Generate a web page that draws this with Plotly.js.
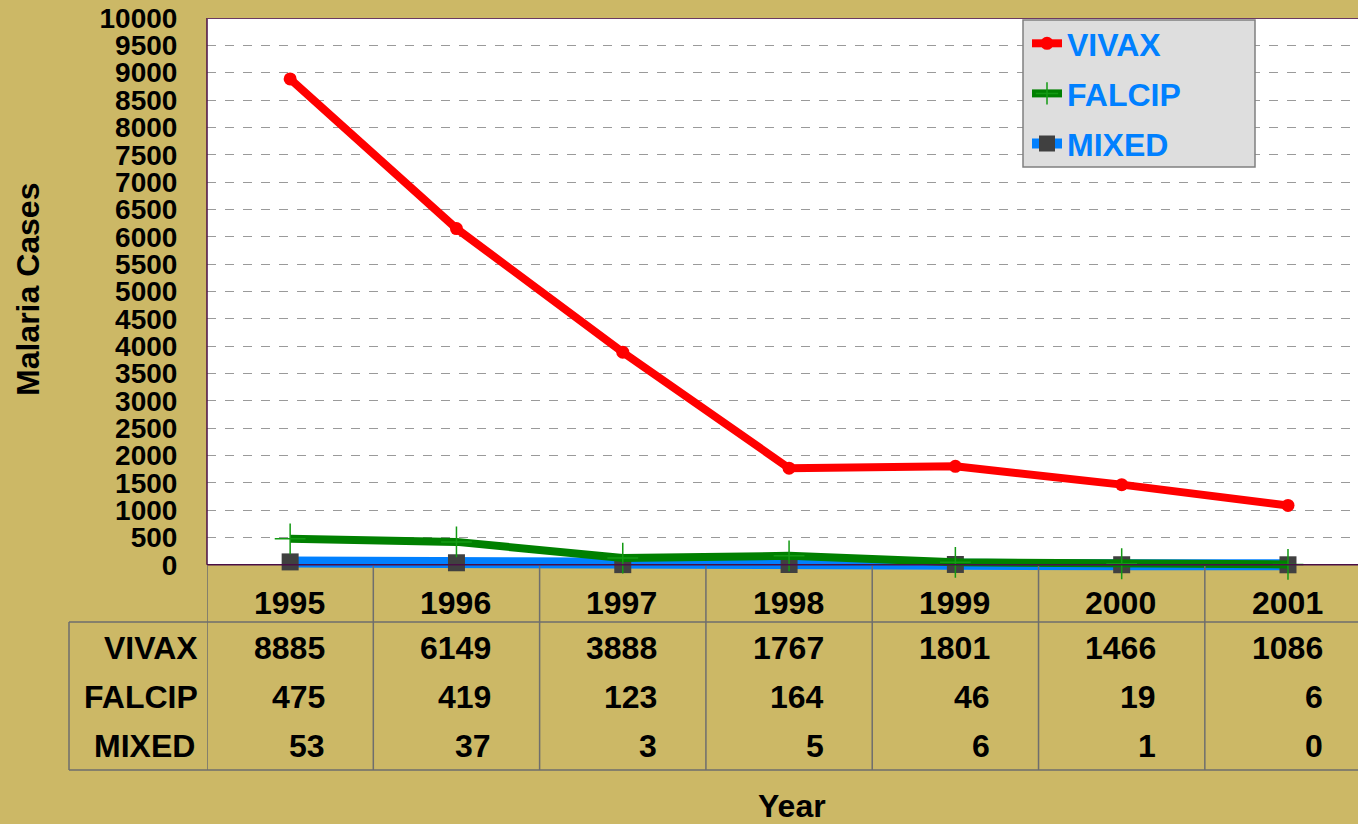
<!DOCTYPE html>
<html>
<head>
<meta charset="utf-8">
<script src="https://cdn.plot.ly/plotly-3.0.1.min.js"></script>
<style>
html,body{margin:0;padding:0;background:#CCB866;}
#chart{width:1358px;height:824px;}
</style>
</head>
<body>
<div id="chart"></div>
<script>
// ---- data ----
const years = ['1995','1996','1997','1998','1999','2000','2001'];
const vivax = [8885, 6149, 3888, 1767, 1801, 1466, 1086];
const falcip = [475, 419, 123, 164, 46, 19, 6];
const mixed = [53, 37, 3, 5, 6, 1, 0];
const seriesNames = ['VIVAX', 'FALCIP', 'MIXED'];
const seriesValues = [vivax, falcip, mixed];

// ---- geometry helpers (plot area in pixels) ----
const W = 1358, H = 824;
const M = {l: 207, r: 0, t: 18, b: 251, autoexpand: false};
const PW = W - M.l - M.r, PH = H - M.t - M.b;
const px = x => (x - M.l) / PW;          // pixel x -> paper
const py = y => (H - M.b - y) / PH;      // pixel y -> paper
const FONT = '"Liberation Sans", Arial, sans-serif';
const BG = '#CCB866';
const TABLE_LINE = '#6E6E6E';
const AXIS_LINE = '#4A0E46';

const traces = [
  {name: 'MIXED', x: years, y: mixed, type: 'scatter', mode: 'lines+markers', legendgroup: 'g3',
   line: {color: '#0080FF', width: 11}, legendrank: 3, cliponaxis: false,
   marker: {symbol: 'square', size: 17, color: '#404040'}},
  {name: 'FALCIP', x: years, y: falcip, type: 'scatter', mode: 'lines+markers', legendgroup: 'g2',
   line: {color: '#008000', width: 8}, legendrank: 2, cliponaxis: false,
   marker: {symbol: 'cross-thin', size: 22, color: '#008000', line: {color: '#139A13', width: 1.5}}},
  {name: 'VIVAX', x: years, y: vivax, type: 'scatter', mode: 'lines+markers', legendgroup: 'g1',
   line: {color: '#FF0000', width: 8}, legendrank: 1, cliponaxis: false,
   marker: {symbol: 'circle', size: 13, color: '#FF0000'}}
];

const shapes = [];
const annotations = [];

// white plot area from 0 to 10000
shapes.push({type: 'rect', xref: 'paper', yref: 'y', x0: 0, x1: 1, y0: 0, y1: 10000,
  fillcolor: '#FFFFFF', line: {width: 0}, layer: 'below'});
// plot border (left, top, bottom axis)
shapes.push({type: 'line', xref: 'paper', yref: 'y', x0: 0, x1: 0, y0: 0, y1: 10000,
  line: {color: AXIS_LINE, width: 1.5}, layer: 'above'});
shapes.push({type: 'line', xref: 'paper', yref: 'y', x0: 0, x1: 1, y0: 10000, y1: 10000,
  line: {color: '#6A3A62', width: 2}, layer: 'above'});
shapes.push({type: 'line', xref: 'paper', yref: 'y', x0: 0, x1: 1, y0: 0, y1: 0,
  line: {color: AXIS_LINE, width: 1.5}, layer: 'above'});
// legend box
shapes.push({type: 'rect', xref: 'paper', yref: 'paper', x0: px(1023), x1: px(1255),
  y0: py(167), y1: py(20), fillcolor: '#DEDEDE', line: {color: '#808080', width: 1.5}, layer: 'above'});

// data table grid
for (let i = 0; i <= years.length; i++) {
  shapes.push({type: 'line', xref: 'x', yref: 'paper', x0: i - 0.5, x1: i - 0.5,
    y0: py(566), y1: py(770), line: {color: TABLE_LINE, width: 1.5}});
}
shapes.push({type: 'line', xref: 'paper', yref: 'paper', x0: px(69), x1: px(69),
  y0: py(622), y1: py(770), line: {color: TABLE_LINE, width: 1.5}});
shapes.push({type: 'line', xref: 'paper', yref: 'paper', x0: px(69), x1: 1.01,
  y0: py(622), y1: py(622), line: {color: TABLE_LINE, width: 1.5}});
shapes.push({type: 'line', xref: 'paper', yref: 'paper', x0: px(69), x1: 1.01,
  y0: py(770), y1: py(770), line: {color: TABLE_LINE, width: 1.5}});

const tFont = {family: FONT, size: 32, color: '#000000', weight: 'bold'};
const rowY = [603, 648, 697, 746];
const labelX = [151, 141, 144];
// year header row
years.forEach((yr, i) => {
  annotations.push({xref: 'x', yref: 'paper', x: i + 0.22, y: py(rowY[0]),
    xanchor: 'right', yanchor: 'middle', text: yr, showarrow: false, font: tFont});
});
// series rows
seriesNames.forEach((nm, r) => {
  annotations.push({xref: 'paper', yref: 'paper', x: px(labelX[r]), y: py(rowY[r + 1]),
    xanchor: 'center', yanchor: 'middle', text: nm, showarrow: false, font: tFont});
  seriesValues[r].forEach((v, i) => {
    annotations.push({xref: 'x', yref: 'paper', x: i + 0.22, y: py(rowY[r + 1]),
      xanchor: 'right', yanchor: 'middle', text: String(v), showarrow: false, font: tFont});
  });
});
// axis titles
annotations.push({xref: 'paper', yref: 'paper', x: px(28), y: py(290), textangle: -90,
  xanchor: 'center', yanchor: 'middle', text: 'Malaria Cases', showarrow: false,
  font: {family: FONT, size: 32, color: '#000000', weight: 'bold'}});
annotations.push({xref: 'x', yref: 'paper', x: 3.02, y: py(806),
  xanchor: 'center', yanchor: 'middle', text: 'Year', showarrow: false,
  font: {family: FONT, size: 32, color: '#000000', weight: 'bold'}});

const layout = {
  width: W, height: H,
  margin: M,
  paper_bgcolor: BG,
  plot_bgcolor: 'rgba(0,0,0,0)',
  font: {family: FONT, color: '#000000'},
  xaxis: {type: 'category', range: [-0.5, 6.421], autorange: false, showticklabels: false, ticks: '',
    showgrid: false, zeroline: false, showline: false, fixedrange: true},
  yaxis: {range: [-150, 10000], autorange: false, tick0: 0, dtick: 500, tickformat: 'd', showgrid: true,
    gridcolor: '#9A9A9A', griddash: 'dash', gridwidth: 1, zeroline: false, showline: false,
    ticks: 'outside', ticklen: 23, tickcolor: 'rgba(0,0,0,0)',
    tickfont: {family: FONT, size: 28, color: '#000000', weight: 'bold'}},
  legend: {xref: 'container', yref: 'container', x: 1027 / W, y: 1 - 16 / H,
    xanchor: 'left', yanchor: 'top', bgcolor: 'rgba(0,0,0,0)', borderwidth: 0,
    font: {family: FONT, size: 32, color: '#0080FF', weight: 'bold'}, traceorder: 'grouped',
    tracegroupgap: 5.5},
  shapes: shapes,
  annotations: annotations,
  showlegend: true
};

Plotly.newPlot('chart', traces, layout, {displayModeBar: false, staticPlot: true});
</script>
</body>
</html>
